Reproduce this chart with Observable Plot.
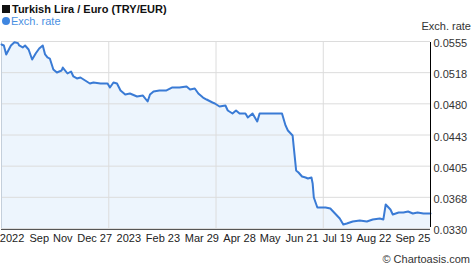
<!DOCTYPE html>
<html><head><meta charset="utf-8">
<script src="https://cdn.jsdelivr.net/npm/d3@7"></script>
<script src="https://cdn.jsdelivr.net/npm/@observablehq/plot@0.6"></script>
<style>
body{margin:0;background:#fff;font-family:"Liberation Sans",Arial,sans-serif;}
#wrap{position:relative;width:474px;height:269px;overflow:hidden}
#head{position:relative;height:30px}
.sq{position:absolute;left:2px;top:5px;width:8px;height:8px;background:#111}
.title{position:absolute;left:12px;top:2px;font-size:11px;font-weight:bold;color:#111;line-height:14px;white-space:nowrap}
.dot{position:absolute;left:2px;top:17px;width:8px;height:8px;border-radius:50%;background:#3f86e0}
.leg{position:absolute;left:11px;top:14px;font-size:11px;color:#4a90e2;line-height:14px;white-space:nowrap}
.ylab{position:absolute;right:3px;top:19px;font-size:11px;color:#333;line-height:14px;white-space:nowrap}
#chart{height:219px}
#chart svg{display:block}
.cap{height:20px;line-height:20px;font-size:11px;color:#333;text-align:right;padding-right:4px}
</style></head>
<body>
<div id="wrap">
  <div id="head">
    <div class="sq"></div><div class="title">Turkish Lira / Euro (TRY/EUR)</div>
    <div class="dot"></div><div class="leg">Exch. rate</div>
    <div class="ylab">Exch. rate</div>
  </div>
  <div id="chart"></div>
  <div class="cap">© Chartoasis.com</div>
</div>
<script>
const dates = [
"2022-09-26","2022-09-28","2022-09-30","2022-10-04","2022-10-07","2022-10-10","2022-10-11","2022-10-14","2022-10-16","2022-10-19",
"2022-10-22","2022-10-25","2022-10-28","2022-10-31","2022-11-02","2022-11-04","2022-11-06","2022-11-09","2022-11-12","2022-11-16",
"2022-11-17","2022-11-21","2022-11-24","2022-11-26","2022-11-29","2022-12-02","2022-12-06","2022-12-10","2022-12-13","2022-12-19",
"2022-12-25","2022-12-27","2022-12-30","2023-01-02","2023-01-05","2023-01-09","2023-01-13","2023-01-19","2023-01-24","2023-01-28",
"2023-01-30","2023-02-02","2023-02-07","2023-02-13","2023-02-18","2023-02-24","2023-03-02","2023-03-05","2023-03-09","2023-03-12",
"2023-03-16","2023-03-19","2023-03-24","2023-03-26","2023-03-30","2023-04-04","2023-04-06","2023-04-10","2023-04-13","2023-04-16",
"2023-04-21","2023-04-23","2023-04-27","2023-05-01","2023-05-03","2023-05-09","2023-05-14","2023-05-22","2023-05-25","2023-05-27",
"2023-05-31","2023-06-01","2023-06-03","2023-06-05","2023-06-08","2023-06-11","2023-06-13","2023-06-16","2023-06-17","2023-06-18",
"2023-06-21","2023-06-23","2023-06-28","2023-07-02","2023-07-06","2023-07-10","2023-07-13","2023-07-16","2023-07-21","2023-07-27",
"2023-08-02","2023-08-07","2023-08-13","2023-08-16","2023-08-18","2023-08-22","2023-08-24","2023-08-29","2023-09-02","2023-09-06",
"2023-09-10","2023-09-14","2023-09-19","2023-09-23","2023-09-25"];
const rates = [
0.05514,0.05502,0.05394,0.05502,0.05542,0.05530,0.05502,0.05478,0.05502,0.05454,
0.05333,0.05406,0.05466,0.05502,0.05394,0.05358,0.05345,0.05213,0.05177,0.05201,
0.05237,0.05165,0.05189,0.05129,0.05105,0.05117,0.05081,0.05045,0.05057,0.05045,
0.05045,0.04997,0.05057,0.05045,0.04961,0.04912,0.04924,0.04888,0.04900,0.04828,
0.04912,0.04949,0.04961,0.04961,0.04997,0.04997,0.05009,0.04973,0.04985,0.04924,
0.04876,0.04852,0.04816,0.04804,0.04768,0.04780,0.04720,0.04684,0.04720,0.04684,
0.04684,0.04636,0.04684,0.04588,0.04684,0.04684,0.04684,0.04684,0.04540,0.04479,
0.04419,0.04275,0.03998,0.03974,0.03926,0.03914,0.03902,0.03914,0.03842,0.03673,
0.03553,0.03553,0.03553,0.03541,0.03481,0.03421,0.03349,0.03361,0.03385,0.03397,
0.03385,0.03409,0.03421,0.03409,0.03589,0.03529,0.03469,0.03493,0.03493,0.03505,
0.03481,0.03493,0.03481,0.03481,0.03481];
const yTicks = [0.0555,0.05175,0.048,0.04425,0.0405,0.03675,0.033];
const yTickLabels = ["0.0555","0.0518","0.0480","0.0443","0.0405","0.0368","0.0330"];
const xTickDates = ["2022-10-05","2022-10-28","2022-11-17","2022-12-14","2023-01-12","2023-02-10","2023-03-15","2023-04-16","2023-05-12","2023-06-08","2023-07-08","2023-08-08","2023-09-10"];
const xTickLabels = ["2022","Sep","Nov","Dec 27","2023","Feb 23","Mar 29","Apr 28","May","Jun 21","Jul 19","Aug 22","Sep 25"];
const xGridDates = ["2022-12-26","2023-03-27","2023-06-26"];
const xDomain = ["2022-09-26","2023-09-25"];

const data = dates.map((d,i)=>({date:new Date(d), value:rates[i]}));
const yTickData = yTicks.map((v,i)=>({v, label:yTickLabels[i]}));
const xTickData = xTickDates.map((d,i)=>({d:new Date(d), label:xTickLabels[i]}));
const yMin = d3.min(yTicks), yMax = d3.max(yTicks);

const chart = Plot.plot({
  width: 474, height: 219,
  marginLeft: 1, marginRight: 44, marginTop: 11, marginBottom: 21,
  style: {fontFamily: "'Liberation Sans', Arial, sans-serif", fontSize: "11px", color: "#333", background: "transparent", overflow: "visible"},
  x: {type: "utc", domain: xDomain.map(d=>new Date(d)), axis: null},
  y: {domain: [yMin, yMax], axis: null},
  marks: [
    Plot.areaY(data, {x: "date", y1: () => yMin, y2: "value", fill: "#edf5fd", curve: "linear"}),
    Plot.ruleY(yTicks, {stroke: "#dcdcdc"}),
    Plot.ruleX(xGridDates.map(d=>new Date(d)), {stroke: "#dcdcdc"}),
    Plot.ruleX([new Date(xDomain[0])], {stroke: "#c4cfdb"}),
    Plot.line(data, {x: "date", y: "value", stroke: "#3a7bd5", strokeWidth: 2}),
    Plot.ruleY([yMin], {stroke: "#555", dy: 1}),
    Plot.ruleX([new Date(xDomain[1])], {stroke: "#000", y1: yMin, y2: yMax, insetTop: -1, insetBottom: -1}),
    Plot.text(yTickData, {y: "v", text: "label", frameAnchor: "right", textAnchor: "start", dx: 3, dy: 2, fill: "#333", fontSize: 11}),
    Plot.text(xTickData, {x: "d", text: "label", frameAnchor: "bottom", dy: 13, fill: "#222", fontSize: 11})
  ]
});
document.getElementById("chart").appendChild(chart);
</script>
</body></html>
